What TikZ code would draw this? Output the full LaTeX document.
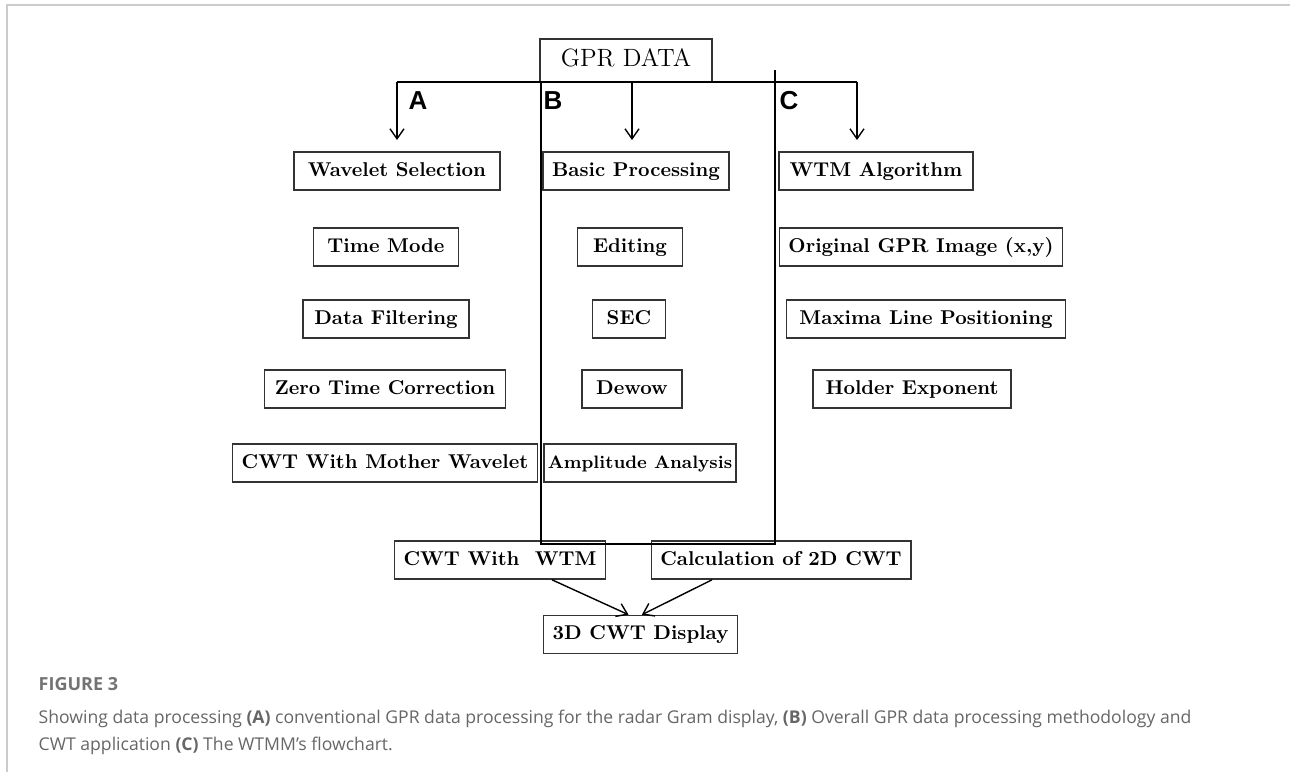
\documentclass[tikz,border=0pt]{standalone}
\usepackage{fontspec}
\newfontfamily\capfont{Open Sans}
\newfontfamily\labfont{Liberation Sans}
\usetikzlibrary{arrows.meta}
\tikzset{
every picture/.style={
line width=0.7pt
}}

\begin{document}
\begin{tikzpicture}[x=0.5pt, y=-0.5pt, >={Straight Barb[length=5pt,width=7pt]},
block/.style = {rectangle, draw=black!80, line width=0.8pt, font=\bfseries, inner xsep=4.5pt, inner ysep=0pt, text height=6.9pt, text depth=1.9pt, minimum height=19pt},
tag/.style = {font=\labfont\bfseries\fontsize{13}{15}\selectfont}]
\useasboundingbox (0,0) rectangle (1290,772);
\draw[black!20, line width=1pt] (7,772) -- (7,5) -- (1290,5);

\node[block, font=\fontsize{12.5}{14}\selectfont, text height=8.6pt, text depth=2.4pt, minimum width=86pt, minimum height=21.5pt] at (626,60.5) (gpr) {GPR DATA};

% A
\node[block, minimum width=103pt] at (397,171) (ws) {Wavelet Selection};
\node[block, minimum width=72.5pt] at (386,247) (tm) {Time Mode};
\node[block, minimum width=83pt] at (386,319) (df) {Data Filtering};
\node[block, minimum width=120.5pt] at (385,389) (ztc) {Zero Time Correction};
\node[block, minimum width=151.5pt] at (385,463) (cmw) {CWT With Mother Wavelet};
% B
\node[block, minimum width=91pt] at (636,171) (bp) {Basic Processing};
\node[block, minimum width=52.5pt] at (630,247) (ed) {Editing};
\node[block, minimum width=36.5pt] at (629,319) (sec) {SEC};
\node[block, minimum width=50pt] at (632,389) (dew) {Dewow};
\node[block, font=\bfseries\fontsize{9}{11}\selectfont, inner xsep=2pt, minimum width=94pt] at (640,463) (amp) {Amplitude Analysis};
% C
\node[block, minimum width=97pt] at (876,171) (wtm) {WTM Algorithm};
\node[block, minimum width=141.5pt] at (921,247) (img) {Original GPR Image (x,y)};
\node[block, minimum width=139.5pt] at (926,319) (mlp) {Maxima Line Positioning};
\node[block, minimum width=99pt] at (912,389) (hex) {Holder Exponent};
% bottom
\node[block, minimum width=92pt] at (500,560) (cww) {CWT With~~WTM};
\node[block, minimum width=127pt] at (781,560) (calc) {Calculation of 2D CWT};
\node[block, minimum width=94.5pt] at (640.5,634.5) (disp) {3D CWT Display};

\node[tag] at (418,101) (la) {A};
\node[tag] at (553,101) (lb) {B};
\node[tag] at (789,101) (lc) {C};

\coordinate (hl) at (397,82);
\coordinate (hr) at (857,82);
\coordinate (ta) at (397,140);
\coordinate (tb) at (632,140);
\coordinate (tc) at (857,140);
\draw (hl) -- (hr);
\draw[->] (hl) -- (ta);
\draw[->] (tb |- hl) -- (tb);
\draw[->] (hr) -- (tc);

\coordinate (bt) at (541,82);
\coordinate (bb) at (541,544);
\coordinate (ct) at (775,70);
\coordinate (cb) at (775,544);
\draw (bt) -- (bb) -- (cb) -- (ct);

\draw[->] ([xshift=26pt]cww.south) -- ([xshift=-6pt]disp.north);
\draw[->] ([xshift=-34.5pt]calc.south) -- ([xshift=0.7pt]disp.north);

\node[anchor=base west, inner sep=0pt, font=\capfont\bfseries\fontsize{9}{11}\selectfont, text=black!55] at (38,690) (fig) {FIGURE 3};
\node[anchor=north west, align=left, inner sep=0pt, font=\capfont\fontsize{8.8}{13.5}\selectfont, text=black!60] at (38,709) (cap) {Showing data processing \textbf{(A)} conventional GPR data processing for the radar Gram display, \textbf{(B)} Overall GPR data processing methodology and\\CWT application \textbf{(C)} The WTMM’s flowchart.};
\end{tikzpicture}
\end{document}
